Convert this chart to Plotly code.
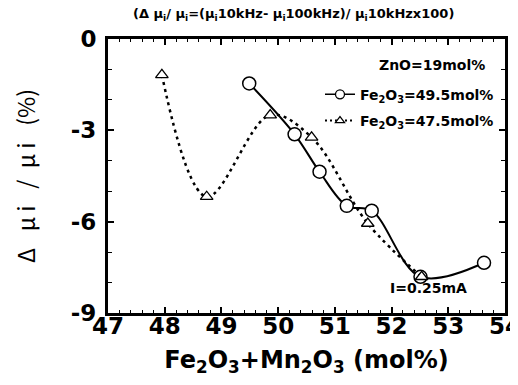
import plotly.graph_objects as go

# Data
x_495 = [49.49, 50.29, 50.73, 51.21, 51.65, 52.51, 53.63]
y_495 = [-1.46, -3.13, -4.36, -5.48, -5.64, -7.81, -7.35]
x_475 = [47.95, 48.74, 49.86, 50.59, 51.58, 52.53]
y_475 = [-1.18, -5.18, -2.50, -3.23, -6.06, -7.81]

x_ticks = [47, 48, 49, 50, 51, 52, 53, 54]
y_ticks = [0, -3, -6, -9]

name_495 = "Fe<sub>2</sub>O<sub>3</sub>=49.5mol%"
name_475 = "Fe<sub>2</sub>O<sub>3</sub>=47.5mol%"

BF = "DejaVu Sans, sans-serif"

fig = go.Figure()
fig.add_trace(go.Scatter(
    x=x_495, y=y_495, name=name_495, mode="lines+markers", showlegend=False,
    line=dict(color="black", width=2, shape="spline"),
    marker=dict(symbol="circle", size=13, color="white", line=dict(width=1.5, color="black")),
))
fig.add_trace(go.Scatter(
    x=x_475, y=y_475, name=name_475, mode="lines+markers", showlegend=False,
    line=dict(color="black", width=2.5, shape="spline", dash="3px,4px"),
    marker=dict(symbol="triangle-up", size=11, color="white", line=dict(width=1.3, color="black")),
))
# legend entries (no data, smaller symbols as in the reference legend)
fig.add_trace(go.Scatter(
    x=[None], y=[None], name=name_495, mode="lines+markers", legendgroup="a",
    line=dict(color="black", width=1.5),
    marker=dict(symbol="circle", size=9, color="white", line=dict(width=1.3, color="black")),
))
fig.add_trace(go.Scatter(
    x=[None], y=[None], name=name_475, mode="lines+markers", legendgroup="b",
    line=dict(color="black", width=2, dash="2px,3px"),
    marker=dict(symbol="triangle-up", size=8, color="white", line=dict(width=1.2, color="black")),
))

axis_common = dict(
    showline=True, linewidth=3, linecolor="black", mirror="allticks",
    ticks="inside", tickcolor="black", tickwidth=1.5, ticklen=6,
    showgrid=False, zeroline=False, automargin=False, ticklabeloverflow="allow",
    tickfont=dict(family=BF, size=23, color="black", weight="bold"),
)

fig.update_xaxes(
    range=[47, 54], tickvals=x_ticks, ticktext=[str(v) for v in x_ticks],
    minor=dict(ticks="inside", dtick=0.2, ticklen=3, tickcolor="black", tickwidth=1),
    ticklabelstandoff=-10,
    title=dict(text="Fe<sub>2</sub>O<sub>3</sub>+Mn<sub>2</sub>O<sub>3</sub> (mol%)",
               font=dict(family=BF, size=24, color="black", weight="bold"), standoff=21),
    **axis_common,
)
fig.update_yaxes(
    range=[-9, 0], tickvals=y_ticks, ticktext=[str(v) for v in y_ticks],
    minor=dict(ticks="inside", dtick=1, ticklen=4, tickcolor="black", tickwidth=1),
    ticklabelstandoff=4,
    title=dict(text="Δ\u2002 μ i\u2002 /\u2002μ i\u2002 (%)",
               font=dict(family="Noto Sans CJK JP, DejaVu Sans", size=23, color="black"), standoff=43),
    **axis_common,
)

fig.add_annotation(
    text="(Δ μ<sub>i</sub>/ μ<sub>i</sub>=(μ<sub>i</sub>10kHz- μ<sub>i</sub>100kHz)/ μ<sub>i</sub>10kHzx100)",
    xref="paper", yref="paper", x=0.466, y=1.091, showarrow=False,
    xanchor="center", yanchor="middle",
    font=dict(family=BF, size=13, color="black", weight="bold"),
)
fig.add_annotation(
    text="ZnO=19mol%", xref="paper", yref="paper", x=0.955, y=0.905,
    showarrow=False, xanchor="right", yanchor="middle",
    font=dict(family=BF, size=14, color="black", weight="bold"),
)
fig.add_annotation(
    text="I=0.25mA", xref="paper", yref="paper", x=0.909, y=0.091,
    showarrow=False, xanchor="right", yanchor="middle",
    font=dict(family=BF, size=14, color="black", weight="bold"),
)

# The page body adds an 8px margin; margins keep the plot area where the
# reference has it inside the 518x385 window.
fig.update_layout(
    width=510, height=369,
    margin=dict(l=100, r=13, t=31, b=64),
    paper_bgcolor="white", plot_bgcolor="white",
    showlegend=True,
    legend=dict(
        x=0.534, y=0.855, xanchor="left", yanchor="top",
        bgcolor="rgba(0,0,0,0)", borderwidth=0, itemwidth=30,
        font=dict(family=BF, size=14, color="black", weight="bold"),
        tracegroupgap=5,
    ),
)

fig.write_html("out.html")
